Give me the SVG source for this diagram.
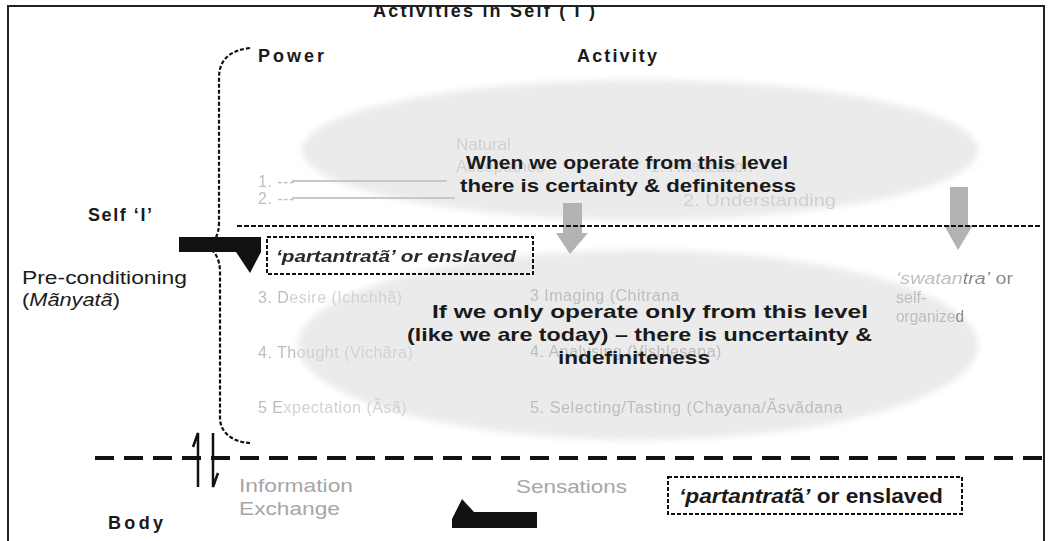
<svg xmlns="http://www.w3.org/2000/svg" width="1050" height="541" viewBox="0 0 1050 541">
<defs>
<filter id="soft" x="-5%" y="-10%" width="110%" height="120%"><feGaussianBlur stdDeviation="3"/></filter>
<filter id="fuzz"><feGaussianBlur stdDeviation="0.6"/></filter>
<style>
text{font-family:"Liberation Sans",Arial,sans-serif}
.b{font-weight:bold;fill:#1a1a1a;font-size:19px}
.h{font-weight:bold;fill:#1a1a1a;font-size:18px}
.g{fill:#bdbdbd;font-size:16px;letter-spacing:0.5px}
.gi{fill:#d0d0d0;font-size:17px}
.m{fill:#a6a6a6;font-size:19px}
.lbl{fill:#1a1a1a;font-size:18px}
.box{fill:none;stroke:#111;stroke-width:2;stroke-dasharray:4 2}
</style>
</defs>
<rect width="1050" height="541" fill="#fff"/>

<g id="ellipses">
<ellipse cx="640" cy="150" rx="338" ry="70" fill="#ebebeb" filter="url(#soft)"/>
<ellipse cx="638" cy="345" rx="340" ry="95" fill="#ebebeb" filter="url(#soft)"/>
</g>

<g id="title">
<text class="h" x="373" y="17" font-size="19" textLength="222">Activities in Self ( I )</text>
<rect x="0" y="0" width="1050" height="6" fill="#fff"/>
</g>
<g id="frame" fill="none" stroke="#222" stroke-width="2">
<path d="M8,545 V6 H1044 V545"/>
</g>

<g id="headers">
<text class="h" x="258" y="62" textLength="66">Power</text>
<text class="h" x="577" y="62" textLength="80">Activity</text>
</g>

<g id="upper-level" filter="url(#fuzz)">
<text class="g" x="258" y="187" font-size="17">1. ---</text>
<line x1="292" y1="181" x2="447" y2="181" stroke="#c8c8c8" stroke-width="2"/>
<text class="g" x="258" y="204" font-size="17">2. ---</text>
<line x1="292" y1="198" x2="455" y2="198" stroke="#c8c8c8" stroke-width="2"/>
<text class="gi" x="456" y="150" font-size="18">Natural</text>
<text class="gi" x="456" y="172" font-size="18">Acceptance</text>
<text class="gi" x="650" y="172" font-size="18">1. Realization</text>
<text class="gi" x="683" y="206" font-size="18" textLength="153" lengthAdjust="spacingAndGlyphs">2. Understanding</text>
</g>
<g id="upper-msg">
<text class="b" x="466" y="169" textLength="322" lengthAdjust="spacingAndGlyphs">When we operate from this level</text>
<text class="b" x="460" y="192" textLength="336" lengthAdjust="spacingAndGlyphs">there is certainty &amp; definiteness</text>
</g>

<g id="gray-arrows" fill="#b3b3b3">
<path d="M563,203 H582 V233 H588 L570,254 L556,233 H563 Z"/>
<path d="M950,187 H968 V225 H973 L958,250 L944,225 H950 Z"/>
</g>

<g id="divider">
<line x1="237" y1="226" x2="1042" y2="226" stroke="#111" stroke-width="2" stroke-dasharray="5 2"/>
</g>

<g id="self">
<text class="h" x="88" y="221" textLength="64">Self ‘I’</text>
<text class="lbl" x="22" y="284" textLength="165" lengthAdjust="spacingAndGlyphs">Pre-conditioning</text>
<text class="lbl" x="22" y="306" textLength="98" lengthAdjust="spacingAndGlyphs">(<tspan font-style="italic">Mãnyatã</tspan>)</text>
</g>

<g id="brace">
<path d="M250,48 C232,50 219,58 219,78 V222 C219,236 214,243 206,246 C214,250 220,258 220,272 V418 C220,432 232,442 250,443" fill="none" stroke="#111" stroke-width="2.2" stroke-dasharray="4 2"/>
</g>

<g id="arrow-left">
<path d="M179,237 H261 V252 L250,273 L236,252 H179 Z" fill="#111"/>
</g>

<g id="box-upper">
<rect class="box" x="267" y="237" width="266" height="37"/>
<text x="276" y="262" font-size="17" font-weight="bold" font-style="italic" fill="#2a2a2a" filter="url(#fuzz)" textLength="240" lengthAdjust="spacingAndGlyphs">‘partantratã’ or enslaved</text>
</g>

<g id="swatantra" filter="url(#fuzz)">
<text x="896" y="284" font-size="16" fill="#bdbdbd" textLength="117" lengthAdjust="spacingAndGlyphs"><tspan font-style="italic">‘swatan</tspan><tspan font-style="italic" fill="#8a8a8a">tra’</tspan><tspan fill="#8a8a8a"> or</tspan></text>
<text x="896" y="303" font-size="16" fill="#bdbdbd">self-</text>
<text x="896" y="322" font-size="16" fill="#bdbdbd" textLength="68" lengthAdjust="spacingAndGlyphs">organize<tspan fill="#8a8a8a">d</tspan></text>
</g>

<g id="lower-level" filter="url(#fuzz)">
<text class="g" x="258" y="303">3. D<tspan fill="#d2d2d2">esire (Ichchhã)</tspan></text>
<text class="g" x="530" y="301" fill="#d0d0d0">3 Imaging (Chitrana</text>
<text class="g" x="258" y="358">4. Th<tspan fill="#d2d2d2">ought (Vichãra)</tspan></text>
<text class="g" x="530" y="357" fill="#d0d0d0">4. Analysing (Vishlesana)</text>
<text class="g" x="258" y="413">5  E<tspan fill="#d2d2d2">xpectation (Ãsã)</tspan></text>
<text class="g" x="530" y="413" fill="#d0d0d0" textLength="313" lengthAdjust="spacingAndGlyphs">5. Selecting/Tasting (Chayana/Ãsvãdana</text>
</g>
<g id="lower-msg">
<text class="b" x="432" y="318" textLength="436" lengthAdjust="spacingAndGlyphs">If we only operate only from this level</text>
<text class="b" x="407" y="341" textLength="465" lengthAdjust="spacingAndGlyphs">(like we are today) – there is uncertainty &amp;</text>
<text class="b" x="558" y="364" textLength="152" lengthAdjust="spacingAndGlyphs">indefiniteness</text>
</g>

<g id="body-line">
<line x1="95" y1="458" x2="1042" y2="458" stroke="#111" stroke-width="4" stroke-dasharray="19 10"/>
</g>

<g id="exchange-arrows" fill="none" stroke="#111" stroke-width="2.5">
<path d="M198,487 V433 L193,447"/>
<path d="M213,433 V487 L218,473"/>
</g>

<g id="body">
<text class="h" x="108" y="529" textLength="55">Body</text>
<text class="m" x="239" y="492" textLength="114" lengthAdjust="spacingAndGlyphs">Information</text>
<text class="m" x="239" y="515" textLength="101" lengthAdjust="spacingAndGlyphs">Exchange</text>
<text class="m" x="516" y="493" textLength="111" lengthAdjust="spacingAndGlyphs">Sensations</text>
</g>

<g id="arrow-bottom">
<path d="M452,528 V519 L462,499 L474,512 H537 V528 Z" fill="#111"/>
</g>

<g id="box-lower">
<rect class="box" x="668" y="477" width="294" height="37"/>
<text x="679" y="503" font-size="20" font-weight="bold" fill="#1a1a1a" textLength="264" lengthAdjust="spacingAndGlyphs"><tspan font-style="italic">‘partantrat</tspan>ã<tspan font-style="italic">’</tspan> or enslaved</text>
</g>
</svg>
